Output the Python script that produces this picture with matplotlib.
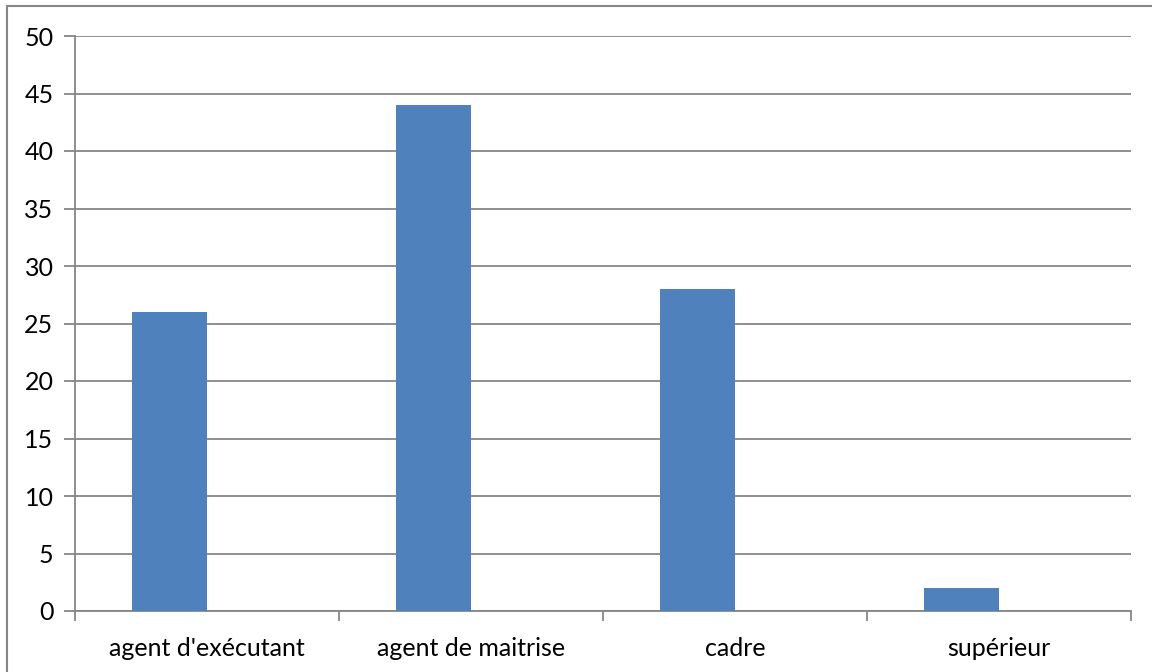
import numpy as np
import matplotlib.pyplot as plt
from matplotlib.patches import Rectangle

categories = ["agent d'exécutant", "agent de maitrise", "cadre", "supérieur"]
values = [26, 44, 28, 2]
yticks = [0, 5, 10, 15, 20, 25, 30, 35, 40, 45, 50]

plt.rcParams['font.family'] = ['Lato', 'DejaVu Sans']
grey = '#868686'

fig = plt.figure(figsize=(11.52, 6.72), dpi=100)
# chart frame, right and bottom edges fall outside the image
fig.patches.append(Rectangle((7 / 1152, -0.02), 1.1, 1 - 6 / 672 + 0.02,
                             transform=fig.transFigure, fill=False,
                             edgecolor=grey, linewidth=1.5))

ax = fig.add_axes([75 / 1152, 1 - 611 / 672, (1131 - 75) / 1152, (611 - 36) / 672])

# excel-like clustered layout: two series per category, gap width 150%
w = 1 / 3.5
x = np.arange(len(categories))
ax.bar(x + 0.75 * w, values, width=w, align='edge', color='#4F81BD', zorder=3)

ax.set_xlim(0, len(categories))
ax.set_ylim(0, 50)
ax.set_yticks(yticks)
ax.yaxis.grid(True, color=grey, linewidth=1.3)
ax.set_axisbelow(True)

for side in ['top', 'right']:
    ax.spines[side].set_visible(False)
for side in ['left', 'bottom']:
    ax.spines[side].set_color(grey)
    ax.spines[side].set_linewidth(1.3)

ax.set_xticks(np.arange(len(categories) + 1))
ax.set_xticklabels([])
ax.set_xticks(x + 0.5, minor=True)
ax.set_xticklabels(categories, minor=True)
ax.tick_params(axis='x', which='major', length=7, width=1.3, color=grey)
ax.tick_params(axis='x', which='minor', length=0, pad=19, labelsize=18)
ax.tick_params(axis='y', length=8, width=1.3, color=grey, pad=7.5, labelsize=18)

fig.savefig('out.png', dpi=100)
